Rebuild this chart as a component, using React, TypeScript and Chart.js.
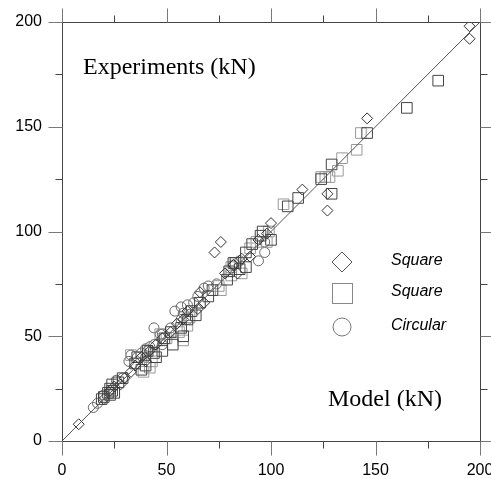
import React, { useEffect, useRef } from "react";
import { Chart, registerables } from "chart.js";

Chart.register(...registerables);

const axisMin = 0;
const axisMax = 200;
const tickLabels = [0, 50, 100, 150, 200];

const diamondPoints = [
  [8, 8], [73, 90], [76, 95], [100, 104], [115, 120], [127, 118], [127, 110], [146, 154], [195, 198], [195, 192],
  [20, 20], [23, 24], [25, 26], [30, 30], [35, 36], [38, 40], [42, 43], [45, 46], [48, 49], [55, 56],
  [60, 62], [66, 71], [68, 66], [82, 84], [86, 87], [90, 88], [94, 96], [98, 99], [65, 63], [52, 52],
  [40, 38], [28, 27], [33, 33], [58, 58], [78, 80], [84, 80],
];

const squarePointsDark = [
  [180, 172], [165, 159], [146, 147], [129, 132], [129, 118], [124, 125], [113, 116], [108, 112], [96, 100], [91, 94],
  [88, 90], [83, 85], [80, 81], [82, 85], [85, 82], [79, 77], [58, 50], [53, 46], [52, 52], [49, 49],
  [41, 43], [36, 40], [38, 34], [35, 37], [29, 30], [27, 28], [24, 27], [23, 25], [22, 23], [20, 21],
  [19, 20], [23, 22], [24, 24], [25, 23], [45, 40], [48, 43], [57, 54], [60, 58], [66, 66], [72, 72],
  [88, 83], [95, 98], [100, 96], [64, 60], [44, 42], [40, 36], [62, 62], [70, 69],
];

const squarePointsLight = [
  [143, 147], [141, 139], [134, 135], [132, 129], [124, 126], [106, 113], [99, 100], [93, 95], [90, 92], [81, 83],
  [76, 72], [58, 48], [42, 35], [33, 41], [47, 51], [50, 49], [56, 52], [61, 59], [75, 74], [81, 79],
  [126, 126], [128, 126], [98, 95], [86, 80], [60, 55], [43, 38], [39, 33],
];

const circlePoints = [
  [15, 16], [17, 18], [29, 30], [36, 40], [33, 41], [41, 43], [40, 44], [44, 54], [48, 51], [47, 51],
  [54, 62], [57, 64], [60, 65], [63, 66], [65, 69], [68, 73], [70, 74], [74, 75], [58, 61], [57, 58],
  [60, 58], [94, 86], [97, 90], [97, 95], [44, 46], [38, 42], [42, 45], [32, 38], [26, 29], [20, 22],
  [48, 46], [52, 54], [82, 84], [85, 86], [40, 40],
];

const linePoints = [[0, 0], [200, 200]];

const legendLabels = ["Square", "Square", "Circular"];
const titleText = "Experiments (kN)";
const xTitleText = "Model (kN)";

const toXY = (arr: number[][]) => arr.map(([x, y]) => ({ x, y }));

const framePlugin = {
  id: "frame",
  afterDraw(chart: any) {
    const { ctx, chartArea, scales } = chart;
    const xs = scales.x;
    const ys = scales.y;
    const L = Math.round(chartArea.left) + 0.5;
    const R = Math.round(chartArea.right) + 0.5;
    const T = Math.round(chartArea.top) + 0.5;
    const B = Math.round(chartArea.bottom) + 0.5;
    ctx.save();
    ctx.lineWidth = 1;
    ctx.strokeStyle = "#444";
    ctx.strokeRect(L, T, R - L, B - T);
    for (let v = axisMin; v <= axisMax; v += 25) {
      const major = v % 50 === 0;
      const len = major ? 14 : 7;
      ctx.strokeStyle = major ? "#777" : "#444";
      const px = Math.round(xs.getPixelForValue(v)) + 0.5;
      const py = Math.round(ys.getPixelForValue(v)) + 0.5;
      ctx.beginPath();
      ctx.moveTo(px, B); ctx.lineTo(px, B + len);
      ctx.moveTo(px, T); ctx.lineTo(px, T - len);
      ctx.moveTo(L, py); ctx.lineTo(L - len, py);
      ctx.moveTo(R, py); ctx.lineTo(R + len, py);
      ctx.stroke();
    }
    // titles
    ctx.fillStyle = "#000";
    ctx.font = '24px "Liberation Serif", "Times New Roman", serif';
    ctx.textBaseline = "alphabetic";
    ctx.textAlign = "left";
    ctx.fillText(titleText, chartArea.left + 21, chartArea.top + 52);
    ctx.fillText(xTitleText, chartArea.left + 266, chartArea.bottom - 35);

    // legend
    const lx = chartArea.left + 280;
    const ly = [chartArea.top + 240, chartArea.top + 271, chartArea.top + 305];
    ctx.lineWidth = 1;
    ctx.strokeStyle = "#555";
    ctx.beginPath();
    ctx.moveTo(lx, ly[0] - 10); ctx.lineTo(lx + 10, ly[0]); ctx.lineTo(lx, ly[0] + 10); ctx.lineTo(lx - 10, ly[0]); ctx.closePath();
    ctx.stroke();
    ctx.strokeStyle = "#888";
    ctx.strokeRect(lx - 10 + 0.5, ly[1] - 10 + 0.5, 20, 20);
    ctx.strokeStyle = "#777";
    ctx.beginPath();
    ctx.arc(lx, ly[2], 9, 0, Math.PI * 2);
    ctx.stroke();
    ctx.fillStyle = "#000";
    ctx.font = 'italic 16px "Liberation Sans", Arial, sans-serif';
    ctx.textBaseline = "middle";
    legendLabels.forEach((t, i) => ctx.fillText(t, lx + 49, ly[i] - 1));
    ctx.restore();
  },
};

export default function App() {
  const ref = useRef<HTMLCanvasElement>(null);
  useEffect(() => {
    if (!ref.current) return;
    const tickFont = { family: '"Liberation Sans", Arial, sans-serif', size: 16 };
    const chart = new Chart(ref.current, {
      type: "scatter",
      data: {
        datasets: [
          {
            label: "line",
            type: "line",
            data: toXY(linePoints),
            borderColor: "#555",
            borderWidth: 1,
            pointRadius: 0,
            fill: false,
          } as any,
          {
            label: legendLabels[0],
            data: toXY(diamondPoints),
            pointStyle: "rectRot",
            pointRadius: 5.5,
            borderColor: "#333",
            backgroundColor: "rgba(0,0,0,0)",
            borderWidth: 1,
          },
          {
            label: legendLabels[1],
            data: toXY(squarePointsDark),
            pointStyle: "rect",
            pointRadius: 7.5,
            borderColor: "#444",
            backgroundColor: "rgba(0,0,0,0)",
            borderWidth: 1,
          },
          {
            label: legendLabels[1] + " ",
            data: toXY(squarePointsLight),
            pointStyle: "rect",
            pointRadius: 7.5,
            borderColor: "#999",
            backgroundColor: "rgba(0,0,0,0)",
            borderWidth: 1,
          },
          {
            label: legendLabels[2],
            data: toXY(circlePoints),
            pointStyle: "circle",
            pointRadius: 5,
            borderColor: "#666",
            backgroundColor: "rgba(0,0,0,0)",
            borderWidth: 1,
          },
        ],
      },
      options: {
        animation: false,
        responsive: false,
        maintainAspectRatio: false,
        devicePixelRatio: 1,
        layout: { padding: { left: 0, right: 11, top: 22, bottom: 0 } },
        plugins: { legend: { display: false }, tooltip: { enabled: false } },
        scales: {
          x: {
            type: "linear",
            min: axisMin,
            max: axisMax,
            grid: { display: false, drawTicks: false },
            border: { display: false },
            afterBuildTicks: (s: any) => { s.ticks = tickLabels.map((v) => ({ value: v })); },
            afterFit: (s: any) => { s.height = 38; s.paddingLeft = 0; s.paddingRight = 0; },
            ticks: { font: tickFont, color: "#000", padding: 20, maxRotation: 0 },
          },
          y: {
            type: "linear",
            min: axisMin,
            max: axisMax,
            grid: { display: false, drawTicks: false },
            border: { display: false },
            afterBuildTicks: (s: any) => { s.ticks = tickLabels.map((v) => ({ value: v })); },
            afterFit: (s: any) => { s.width = 62; s.paddingTop = 0; s.paddingBottom = 0; },
            ticks: { font: tickFont, color: "#000", padding: 20 },
          },
        },
      },
      plugins: [framePlugin],
    });
    return () => chart.destroy();
  }, []);
  return (
    <div style={{ position: "fixed", left: 0, top: 0, width: 491, height: 479, background: "#fff" }}>
      <canvas ref={ref} width={491} height={479} style={{ display: "block" }} />
    </div>
  );
}
